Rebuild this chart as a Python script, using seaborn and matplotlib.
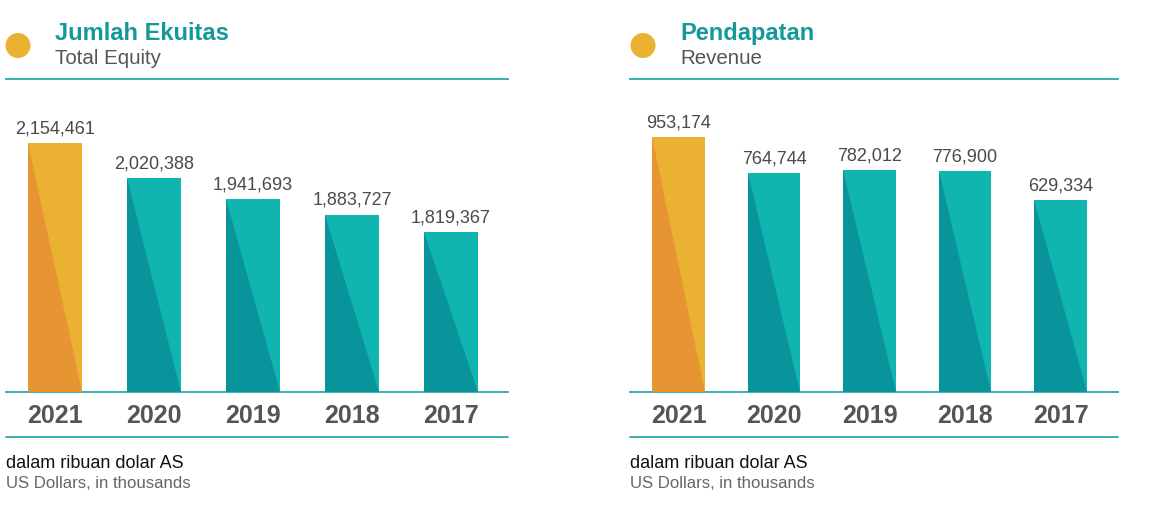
import matplotlib
matplotlib.use("Agg")
import matplotlib.pyplot as plt
import seaborn as sns
import pandas as pd
from matplotlib.patches import Polygon, Ellipse
from matplotlib.lines import Line2D

years = ["2021", "2020", "2019", "2018", "2017"]
equity = [2154461, 2020388, 1941693, 1883727, 1819367]
revenue = [953174, 764744, 782012, 776900, 629334]

GOLD = "#EAB132"
ORANGE = "#E79433"
TEAL = "#10B5AF"
DARK_TEAL = "#09939A"
LINE = "#2BA8AA"
TITLE = "#14999B"

sns.set_theme(style="white")
plt.rcParams["font.family"] = ["Liberation Sans", "DejaVu Sans"]

W, H = 1160, 505
fig = plt.figure(figsize=(W / 100, H / 100), dpi=100)


def px_axes(x0, y_top, x1, y_bot):
    return fig.add_axes([x0 / W, 1 - y_bot / H, (x1 - x0) / W, (y_bot - y_top) / H])


def panel(x0, x1, title, subtitle, values, ylim, xlim, icon_x, title_x):
    ax = px_axes(x0, 79, x1, 392)
    df = pd.DataFrame({"year": years, "value": values})
    base = ylim[0]
    df["h"] = df["value"] - base
    pal = {y: (GOLD if y == "2021" else TEAL) for y in years}
    sns.barplot(data=df, x="year", y="h", hue="year", palette=pal, saturation=1,
                width=0.55, legend=False, bottom=base, ax=ax, linewidth=0)
    ax.set_ylim(*ylim)
    ax.set_xlim(*xlim)

    # diagonal shading on each bar
    for p, yr, v in zip(ax.patches, years, values):
        x, w = p.get_x(), p.get_width()
        top = p.get_y() + p.get_height()
        dark = ORANGE if yr == "2021" else DARK_TEAL
        ax.add_patch(Polygon([(x, top), (x, base), (x + w, base)], closed=True,
                             facecolor=dark, edgecolor="none", zorder=3))
        ax.annotate(f"{v:,}", (x + w / 2, top),
                    xytext=(0, 4), textcoords="offset points", ha="center", va="bottom",
                    fontsize=13, color="#4a4a4a")

    for s in ["left", "right"]:
        ax.spines[s].set_visible(False)
    for s in ["top", "bottom"]:
        ax.spines[s].set_color(LINE)
        ax.spines[s].set_linewidth(1.3)
    ax.set_yticks([])
    ax.set_xlabel("")
    ax.set_ylabel("")
    ax.tick_params(axis="x", length=0, pad=8.5)
    for lab in ax.get_xticklabels():
        lab.set_fontsize(18)
        lab.set_fontweight("bold")
        lab.set_color("#555555")

    # lower rule
    fig.add_artist(Line2D([x0 / W, x1 / W], [1 - 437 / H] * 2, color=LINE, lw=1.3))

    # header
    fig.add_artist(Ellipse((icon_x / W, 1 - 45.5 / H), 25 / W, 25 / H,
                           transform=fig.transFigure, facecolor=GOLD, edgecolor="none"))
    fig.text(title_x / W, 1 - 33.5 / H, title, fontsize=17, fontweight="bold",
             color=TITLE, va="center", ha="left")
    fig.text(title_x / W, 1 - 58.5 / H, subtitle, fontsize=14.8, color="#555555",
             va="center", ha="left")

    # footnote
    fig.text(x0 / W, 1 - 463 / H, "dalam ribuan dolar AS", fontsize=13,
             color="#111111", va="center", ha="left")
    fig.text(x0 / W, 1 - 484 / H, "US Dollars, in thousands", fontsize=12.1,
             color="#666666", va="center", ha="left")
    return ax


panel(6, 508, "Jumlah Ekuitas", "Total Equity", equity,
      (1215800, 2393700), (-0.495, 4.576), 18, 55)
panel(630, 1118, "Pendapatan", "Revenue", revenue,
      (-365000, 1252600), (-0.508, 4.602), 643, 680)

fig.savefig("out.png", dpi=100)
